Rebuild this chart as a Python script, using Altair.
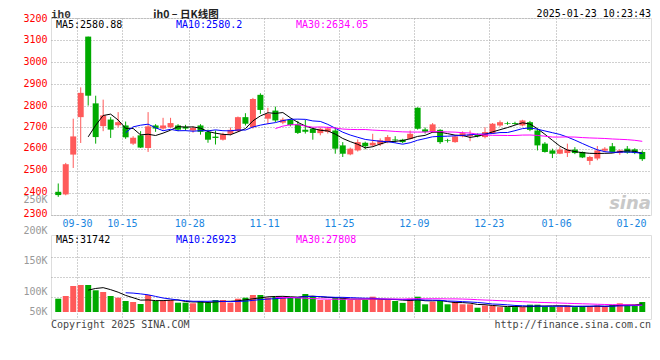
import altair as alt
import pandas as pd

# ---------------- data ----------------
DATES = (
    ["09-25", "09-26", "09-27", "09-30"]
    + ["10-08", "10-09", "10-10", "10-11", "10-14", "10-15", "10-16", "10-17", "10-18",
       "10-21", "10-22", "10-23", "10-24", "10-25", "10-28", "10-29", "10-30", "10-31"]
    + ["11-01", "11-04", "11-05", "11-06", "11-07", "11-08", "11-11", "11-12", "11-13",
       "11-14", "11-15", "11-18", "11-19", "11-20", "11-21", "11-22", "11-25", "11-26",
       "11-27", "11-28", "11-29"]
    + ["12-02", "12-03", "12-04", "12-05", "12-06", "12-09", "12-10", "12-11", "12-12",
       "12-13", "12-16", "12-17", "12-18", "12-19", "12-20", "12-23", "12-24", "12-25",
       "12-26", "12-27", "12-30", "12-31"]
    + ["01-02", "01-03", "01-06", "01-07", "01-08", "01-09", "01-10", "01-13", "01-14",
       "01-15", "01-16", "01-17", "01-20", "01-21"]
)

OPEN = [2406, 2394, 2576, 2747, 3115, 2810, 2706, 2736, 2710, 2709,
        2626, 2664, 2606, 2709, 2695, 2701, 2709, 2703, 2686, 2709,
        2679, 2658, 2644, 2671, 2683, 2747, 2701, 2849, 2740, 2777,
        2722, 2735, 2714, 2690, 2694, 2674, 2680, 2686, 2618, 2577,
        2595, 2630, 2618, 2623, 2633, 2645, 2644, 2648, 2790, 2691,
        2679, 2689, 2641, 2633, 2659, 2660, 2666, 2656, 2674, 2709,
        2720, 2720, 2709, 2724, 2686, 2626, 2595, 2580, 2583, 2599,
        2588, 2547, 2558, 2594, 2614, 2583, 2603, 2600, 2588]
CLOSE = [2391, 2532, 2659, 2858, 2845, 2656, 2755, 2690, 2724, 2655,
         2653, 2608, 2705, 2695, 2709, 2720, 2690, 2695, 2698, 2680,
         2644, 2652, 2668, 2689, 2747, 2717, 2830, 2780, 2762, 2732,
         2736, 2711, 2675, 2680, 2675, 2694, 2696, 2603, 2580, 2603,
         2633, 2614, 2630, 2641, 2656, 2641, 2633, 2671, 2694, 2680,
         2714, 2633, 2638, 2659, 2674, 2668, 2660, 2679, 2717, 2724,
         2717, 2716, 2732, 2689, 2618, 2588, 2580, 2599, 2599, 2583,
         2563, 2565, 2595, 2603, 2588, 2595, 2585, 2583, 2555]
HIGH = [2444, 2538, 2740, 2883, 3115, 2845, 2827, 2747, 2770, 2727,
        2660, 2683, 2770, 2715, 2744, 2744, 2715, 2712, 2705, 2715,
        2690, 2686, 2676, 2700, 2750, 2765, 2835, 2856, 2790, 2795,
        2745, 2740, 2730, 2735, 2700, 2700, 2703, 2701, 2633, 2608,
        2645, 2635, 2671, 2650, 2665, 2660, 2648, 2686, 2792, 2700,
        2720, 2692, 2648, 2662, 2682, 2686, 2672, 2701, 2720, 2732,
        2726, 2726, 2735, 2730, 2694, 2633, 2603, 2610, 2626, 2610,
        2590, 2570, 2615, 2610, 2629, 2600, 2615, 2605, 2595]
LOW = [2383, 2390, 2515, 2629, 2800, 2626, 2683, 2652, 2700, 2648,
       2620, 2606, 2588, 2680, 2690, 2697, 2683, 2685, 2676, 2667,
       2630, 2622, 2640, 2664, 2680, 2709, 2695, 2762, 2715, 2725,
       2715, 2705, 2670, 2672, 2644, 2664, 2672, 2580, 2565, 2573,
       2590, 2600, 2612, 2615, 2628, 2630, 2628, 2645, 2690, 2672,
       2675, 2625, 2631, 2630, 2655, 2637, 2655, 2650, 2670, 2703,
       2712, 2712, 2705, 2683, 2595, 2585, 2560, 2578, 2565, 2578,
       2560, 2529, 2550, 2588, 2585, 2575, 2580, 2578, 2547]
VOLUME = [45000, 51750, 76750, 79250, 79250, 66000, 61750, 51750, 47500, 39250,
          36750, 31750, 54250, 39250, 39250, 41750, 35000, 35000, 33500, 39250,
          35000, 41750, 41750, 35000, 45000, 47500, 54250, 54250, 47500, 49250,
          49250, 49250, 49250, 56750, 51750, 41750, 41750, 47500, 47500, 41750,
          41750, 41750, 50000, 41750, 41750, 39250, 34500, 45000, 50000, 31000,
          37500, 39500, 31000, 37500, 31000, 31000, 22500, 28000, 28000, 24000,
          24000, 24000, 24000, 30000, 30000, 25500, 25500, 25500, 28000, 24000,
          25500, 25500, 28000, 25500, 29500, 33500, 29500, 29500, 36700]

X_TICKS = [2.5, 8.5, 17.5, 27.5, 37.5, 47.5, 57.5, 66.5, 76.5]
X_LABELS = ["09-30", "10-15", "10-28", "11-11", "11-25", "12-09", "12-23", "01-06", "01-20"]
PRICE_TICKS = [2300, 2400, 2500, 2600, 2700, 2800, 2900, 3000, 3100, 3200]
PRICE_LABEL_SHIFT = [-2, -2, -2, -2, -1, 0, 0, 0, 0, 0]
VOL_TICKS = [50000, 100000, 150000, 200000, 204000]
VOL_LABELS = ["50K", "100K", "150K", "200K", "250K"]
VOL_LABEL_SHIFT = [15, 15, 4, -6, -36]
PRICE_DOMAIN = [2300, 3200]
VOL_DOMAIN = [-5750, 204250]
VOL_FLOOR = 11750
X_DOMAIN = [-0.3, 78.5]

PRICE_MA_TEXT = ["MA5:2580.88", "MA10:2580.2", "MA30:2634.05"]
VOL_MA_TEXT = ["MA5:31742", "MA10:26923", "MA30:27808"]
MA_NAMES = ["MA5", "MA10", "MA30"]
MA_WINDOWS = [5, 10, 30]
MA_COLORS = ["#000000", "#0000ff", "#ff00ff"]

RED = "#ff5a5a"
GREEN = "#00aa00"
GRID = "#a0a0a0"
BORDER = "#999999"
MONO = "DejaVu Sans Mono"

# ---------------- tables ----------------
n = len(CLOSE)
df = pd.DataFrame({"i": list(range(n)), "date": DATES, "open": OPEN, "high": HIGH,
                   "low": LOW, "close": CLOSE, "vol": VOLUME})
df["col"] = [RED if c >= o else GREEN for o, c in zip(OPEN, CLOSE)]

rows = []
for name, w, colr in zip(MA_NAMES, MA_WINDOWS, MA_COLORS):
    pm = df["close"].rolling(w).mean()
    vm = df["vol"].rolling(w).mean()
    for i in range(w - 1, n):
        rows.append({"i": i, "series": name, "col": colr, "price": float(pm[i]), "vmean": float(vm[i])})
ma = pd.DataFrame(rows)


def label_expr(vals, labels):
    expr = "''"
    for v, l in reversed(list(zip(vals, labels))):
        expr = f"datum.value == {v} ? '{l}' : ({expr})"
    return expr


def cond_list(vals, outs, default):
    return {"condition": [{"test": f"datum.value == {v}", "value": o}
                          for v, o in zip(vals, outs) if o != default],
            "value": default}


x_scale = alt.Scale(domain=X_DOMAIN, nice=False, zero=False)
price_scale = alt.Scale(domain=PRICE_DOMAIN, nice=False, zero=False)
vol_scale = alt.Scale(domain=VOL_DOMAIN, nice=False, zero=False)
color_fixed = alt.Color("col:N", scale=None, legend=None)

x_axis_price = alt.Axis(
    values=X_TICKS, labelExpr=label_expr(X_TICKS, X_LABELS), title=None,
    grid=True, gridDash=[1, 2], gridColor=GRID,
    gridOpacity={"condition": {"test": "datum.value > 70", "value": 0}, "value": 1},
    ticks=False, domain=False, labelColor="#1a86e0", labelFont=MONO, labelFontSize=10,
    labelPadding=3, labelFlush=False, labelOverlap=False, labelBound=False)

y_axis_price = alt.Axis(
    values=PRICE_TICKS, title=None, grid=True, gridDash=[1, 2], gridColor=GRID,
    ticks=False, domain=False, labelColor="#ff0000", labelFont=MONO, labelFontSize=10,
    labelPadding=4, format="d", labelFlush=False, labelOverlap=False, labelBound=False,
    labelOffset=cond_list(PRICE_TICKS, PRICE_LABEL_SHIFT, 0))

x_axis_vol = alt.Axis(
    values=X_TICKS, labels=False, title=None, grid=True, gridDash=[1, 2], gridColor=GRID,
    gridOpacity={"condition": {"test": "datum.value > 70", "value": 0}, "value": 1},
    ticks=False, domain=False, labelOverlap=False)

y_axis_vol = alt.Axis(
    values=VOL_TICKS, labelExpr=label_expr(VOL_TICKS, VOL_LABELS), title=None,
    grid=True, gridDash=[1, 2], gridColor=GRID,
    gridOpacity={"condition": {"test": "datum.value > 160000", "value": 0}, "value": 1},
    ticks=False, domain=False, labelColor="#999999", labelFont=MONO, labelFontSize=10,
    labelPadding=4, labelFlush=False, labelOverlap=False, labelBound=False,
    labelOffset=cond_list(VOL_TICKS, VOL_LABEL_SHIFT, 0))

# ---------------- price panel ----------------
base = alt.Chart(df)
px = alt.X("i:Q", scale=x_scale, axis=x_axis_price, title=None)
wicks = base.mark_rule(strokeWidth=1).encode(
    x=px,
    y=alt.Y("low:Q", scale=price_scale, axis=y_axis_price, title=None),
    y2="high:Q",
    color=color_fixed)
bodies = base.mark_bar(size=6).encode(
    x=px, y=alt.Y("open:Q", scale=price_scale, axis=y_axis_price, title=None),
    y2="close:Q", color=color_fixed)
ma_lines = alt.Chart(ma).mark_line(strokeWidth=1).encode(
    x=px, y=alt.Y("price:Q", scale=price_scale, axis=y_axis_price, title=None),
    color=color_fixed, detail="series:N")


def txt(s, x, y, color="#000000", align="left", size=10, font=MONO, weight="normal",
        style="normal", opacity=1.0):
    return alt.Chart(pd.DataFrame({"t": [s]})).mark_text(
        align=align, baseline="middle", fontSize=size, font=font, color=color,
        fontWeight=weight, fontStyle=style, opacity=opacity
    ).encode(text="t:N", x=alt.value(x), y=alt.value(y))


price_texts = [
    txt("ih0", 0, -3.5, color="#333333", size=11, font="Liberation Mono", weight="bold"),
    txt("ih0 \u2013 \u65e5K\u7ebf\u56fe", 135, -2.8, color="#222222", align="center", size=10.5,
        font="Noto Sans CJK SC", weight="bold"),
    txt("2025-01-23 10:23:43", 600, -4, align="right"),
    txt(PRICE_MA_TEXT[0], 5, 7, color=MA_COLORS[0]),
    txt(PRICE_MA_TEXT[1], 125, 7, color=MA_COLORS[1]),
    txt(PRICE_MA_TEXT[2], 245, 7, color=MA_COLORS[2]),
    txt("sina", 600, 186, color="#c8c8c8", align="right", size=18, font="DejaVu Sans",
        weight="bold", style="italic"),
]

price = alt.layer(wicks, bodies, ma_lines, *price_texts).properties(width=600, height=197)

# ---------------- volume panel ----------------
vbase = alt.Chart(df)
vx = alt.X("i:Q", scale=x_scale, axis=x_axis_vol, title=None)
vbars = vbase.mark_bar(size=6).encode(
    x=vx,
    y=alt.Y("vol:Q", scale=vol_scale, axis=y_axis_vol, title=None),
    y2=alt.datum(VOL_FLOOR),
    color=color_fixed)
vma = alt.Chart(ma).mark_line(strokeWidth=1).encode(
    x=vx, y=alt.Y("vmean:Q", scale=vol_scale, axis=y_axis_vol, title=None),
    color=color_fixed, detail="series:N")

vol_texts = [
    txt(VOL_MA_TEXT[0], 5, 5, color=MA_COLORS[0]),
    txt(VOL_MA_TEXT[1], 125, 5, color=MA_COLORS[1]),
    txt(VOL_MA_TEXT[2], 245, 5, color=MA_COLORS[2]),
    txt("Copyright 2025 SINA.COM", 0, 90, color="#444444"),
    txt("http://finance.sina.com.cn", 600, 90, color="#444444", align="right"),
]

volume = alt.layer(vbars, vma, *vol_texts).properties(width=600, height=84)

chart = alt.vconcat(price, volume, spacing=20, bounds="flush").properties(
    padding={"left": 14, "top": 0, "right": 0, "bottom": 0}
).configure_view(stroke=BORDER, strokeWidth=1.2).configure_axis(
    labelOverlap=False
).configure(background="#ffffff")

chart.save("out.html", embed_options={"renderer": "svg", "actions": False})
